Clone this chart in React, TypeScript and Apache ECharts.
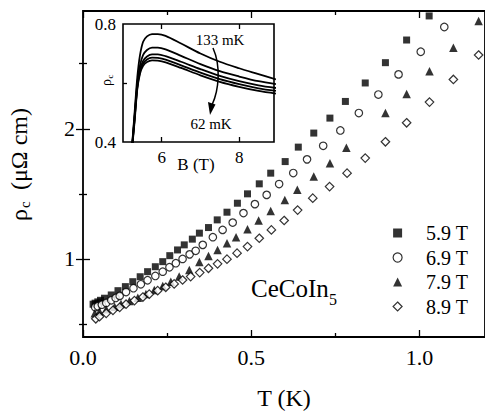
import React, { useEffect, useRef } from "react";
import * as echarts from "echarts";

// Main panel: resistivity rho_c (micro-ohm cm) vs T (K) at four fields
const seriesNames = ["5.9 T", "6.9 T", "7.9 T", "8.9 T"];

const rho59T: number[][] = [
  [0.030, 0.652], [0.036, 0.660], [0.044, 0.670], [0.052, 0.682], [0.064, 0.698],
  [0.084, 0.723], [0.104, 0.756], [0.126, 0.787], [0.148, 0.825], [0.170, 0.863],
  [0.192, 0.902], [0.215, 0.940], [0.237, 0.979], [0.258, 1.025], [0.281, 1.069],
  [0.301, 1.108], [0.325, 1.152], [0.346, 1.198], [0.373, 1.241], [0.399, 1.300],
  [0.428, 1.359], [0.459, 1.428], [0.489, 1.500], [0.524, 1.577], [0.558, 1.659],
  [0.601, 1.748], [0.640, 1.859], [0.686, 1.967], [0.734, 2.082], [0.780, 2.210],
  [0.839, 2.352], [0.899, 2.508], [0.962, 2.682], [1.029, 2.867],
];

const rho69T: number[][] = [
  [0.036, 0.628], [0.044, 0.636], [0.056, 0.648], [0.069, 0.662], [0.084, 0.682],
  [0.097, 0.700], [0.109, 0.716], [0.128, 0.745], [0.150, 0.775], [0.172, 0.805],
  [0.192, 0.836], [0.215, 0.869], [0.237, 0.902], [0.257, 0.936], [0.276, 0.967],
  [0.296, 1.000], [0.317, 1.035], [0.335, 1.062], [0.356, 1.108], [0.386, 1.167],
  [0.415, 1.223], [0.445, 1.279], [0.477, 1.352], [0.511, 1.421], [0.546, 1.492],
  [0.583, 1.575], [0.625, 1.660], [0.666, 1.765], [0.714, 1.869], [0.765, 1.987],
  [0.820, 2.121], [0.878, 2.263], [0.938, 2.418], [1.004, 2.592], [1.074, 2.782],
];

const rho79T: number[][] = [
  [0.035, 0.582], [0.049, 0.595], [0.069, 0.613], [0.094, 0.633], [0.113, 0.654],
  [0.138, 0.677], [0.163, 0.702], [0.187, 0.731], [0.212, 0.762], [0.237, 0.792],
  [0.261, 0.825], [0.286, 0.864], [0.316, 0.915], [0.346, 0.977], [0.373, 1.023],
  [0.400, 1.069], [0.428, 1.121], [0.455, 1.167], [0.489, 1.228], [0.522, 1.295],
  [0.558, 1.369], [0.600, 1.452], [0.637, 1.531], [0.686, 1.633], [0.734, 1.736],
  [0.783, 1.854], [0.899, 2.121], [0.962, 2.268], [1.030, 2.442], [1.101, 2.623],
  [1.176, 2.828],
];

const rho89T: number[][] = [
  [0.038, 0.540], [0.049, 0.556], [0.069, 0.582], [0.089, 0.605], [0.109, 0.628],
  [0.128, 0.652], [0.153, 0.680], [0.178, 0.707], [0.197, 0.729], [0.222, 0.756],
  [0.246, 0.782], [0.271, 0.808], [0.296, 0.838], [0.320, 0.864], [0.347, 0.895],
  [0.373, 0.928], [0.400, 0.962], [0.428, 0.998], [0.458, 1.044], [0.489, 1.095],
  [0.524, 1.159], [0.560, 1.223], [0.598, 1.295], [0.638, 1.375], [0.683, 1.467],
  [0.733, 1.556], [0.785, 1.659], [0.839, 1.775], [0.899, 1.900], [0.962, 2.046],
  [1.030, 2.205], [1.101, 2.379], [1.176, 2.567],
];

// Main axes ticks
const xMajorTicks = [0, 0.5, 1.0];
const xMinorTicks = [0.25, 0.75];
const yMajorTicks = [1, 2];
const yMinorTicks = [0.5, 1.5, 2.5];

// Inset: rho_c vs B (T) at temperatures from 133 mK down to 62 mK
const insetB = [5.2, 5.3, 5.37, 5.44, 5.52, 5.62, 5.75, 5.9, 6.1, 6.5, 7.0, 7.5, 8.0, 8.5, 8.95];
const inset133mK = [0.33, 0.50, 0.62, 0.695, 0.74, 0.758, 0.766, 0.766, 0.760, 0.734, 0.700, 0.672, 0.650, 0.630, 0.612];
const insetCurve2 = [0.33, 0.49, 0.60, 0.66, 0.695, 0.712, 0.720, 0.720, 0.714, 0.692, 0.664, 0.640, 0.622, 0.606, 0.596];
const insetCurve3 = [0.33, 0.48, 0.59, 0.645, 0.675, 0.690, 0.697, 0.697, 0.691, 0.672, 0.647, 0.624, 0.606, 0.592, 0.583];
const insetCurve4 = [0.33, 0.48, 0.585, 0.638, 0.666, 0.680, 0.686, 0.685, 0.679, 0.660, 0.635, 0.613, 0.596, 0.582, 0.573];
const inset62mK = [0.33, 0.47, 0.58, 0.632, 0.658, 0.671, 0.677, 0.676, 0.670, 0.651, 0.626, 0.604, 0.587, 0.573, 0.564];
const insetCurves = [inset133mK, insetCurve2, insetCurve3, insetCurve4, inset62mK];
const insetXTicks = [6, 8];
const insetYLabels = [0.4, 0.8];
const insetYMinor = [0.6];

const FONT = "Liberation Serif";

export default function App() {
  const ref = useRef<HTMLDivElement>(null);

  useEffect(() => {
    document.body.style.margin = "0";
    if (!ref.current) return;
    const chart = echarts.init(ref.current, null, { renderer: "svg" });

    const tickAxisBase = (extra: any) => ({
      type: "value",
      axisLine: { show: false },
      splitLine: { show: false },
      axisLabel: { show: false },
      ...extra,
    });

    const mainX = { min: 0, max: 1.195, gridIndex: 0 };
    const mainY = { min: 0.4, max: 2.905, gridIndex: 0 };
    const inX = { min: 5, max: 8.9, gridIndex: 1 };
    const inY = { min: 0.4, max: 0.8, gridIndex: 1 };
    const tickStyle = { color: "#000", width: 1.3 };

    const xAxis: any[] = [
      tickAxisBase({
        ...mainX, position: "bottom",
        axisTick: { inside: true, length: 7, lineStyle: tickStyle, customValues: xMajorTicks },
        axisLabel: {
          show: true, customValues: xMajorTicks, margin: 9,
          formatter: (v: number) => v.toFixed(1),
          fontFamily: FONT, fontSize: 22, color: "#000",
        },
      }),
      tickAxisBase({ ...mainX, position: "bottom", axisTick: { inside: true, length: 4, lineStyle: tickStyle, customValues: xMinorTicks } }),
      tickAxisBase({ ...mainX, position: "top", axisTick: { inside: true, length: 7, lineStyle: tickStyle, customValues: xMajorTicks } }),
      tickAxisBase({ ...mainX, position: "top", axisTick: { inside: true, length: 4, lineStyle: tickStyle, customValues: xMinorTicks } }),
      tickAxisBase({
        ...inX, position: "bottom",
        axisTick: { inside: true, length: 5, lineStyle: tickStyle, customValues: insetXTicks },
        axisLabel: { show: true, customValues: insetXTicks, margin: 7, fontFamily: FONT, fontSize: 17, color: "#000" },
      }),
      tickAxisBase({ ...inX, position: "top", axisTick: { inside: true, length: 5, lineStyle: tickStyle, customValues: insetXTicks } }),
    ];

    const yAxis: any[] = [
      tickAxisBase({
        ...mainY, position: "left",
        axisTick: { inside: true, length: 7, lineStyle: tickStyle, customValues: yMajorTicks },
        axisLabel: { show: true, customValues: yMajorTicks, margin: 8, fontFamily: FONT, fontSize: 22, color: "#000" },
      }),
      tickAxisBase({ ...mainY, position: "left", axisTick: { inside: true, length: 4, lineStyle: tickStyle, customValues: yMinorTicks } }),
      tickAxisBase({ ...mainY, position: "right", axisTick: { inside: true, length: 7, lineStyle: tickStyle, customValues: yMajorTicks } }),
      tickAxisBase({ ...mainY, position: "right", axisTick: { inside: true, length: 4, lineStyle: tickStyle, customValues: yMinorTicks } }),
      tickAxisBase({
        ...inY, position: "left",
        axisTick: { inside: true, length: 4, lineStyle: tickStyle, customValues: insetYMinor },
        axisLabel: {
          show: true, customValues: insetYLabels, margin: 7,
          formatter: (v: number) => v.toFixed(1),
          fontFamily: FONT, fontSize: 17, color: "#000",
        },
      }),
    ];

    const openStyle = { color: "#fff", borderColor: "#000", borderWidth: 1.2 };
    const filledStyle = { color: "#000", borderColor: "#000", borderWidth: 0 };

    const scatterDefs = [
      { name: seriesNames[0], data: rho59T, symbol: "rect", size: 7, style: filledStyle },
      { name: seriesNames[1], data: rho69T, symbol: "circle", size: 7.5, style: openStyle },
      { name: seriesNames[2], data: rho79T, symbol: "triangle", size: 8.5, style: filledStyle },
      { name: seriesNames[3], data: rho89T, symbol: "diamond", size: 8.5, style: openStyle },
    ];

    const series: any[] = scatterDefs.map((d) => ({
      type: "scatter",
      name: d.name,
      xAxisIndex: 0,
      yAxisIndex: 0,
      data: d.data,
      symbol: d.symbol,
      symbolSize: d.size,
      itemStyle: d.style,
      clip: true,
      silent: true,
    }));

    insetCurves.forEach((c, i) => {
      series.push({
        type: "line",
        name: "inset" + i,
        xAxisIndex: 4,
        yAxisIndex: 4,
        data: insetB.map((b, j) => [b, c[j]]),
        showSymbol: false,
        symbol: "none",
        smooth: 0.3,
        clip: true,
        lineStyle: { color: "#000", width: 1.8 },
        z: 6,
        silent: true,
      });
    });

    const legendData = scatterDefs.map((d) => ({
      name: d.name,
      icon: d.symbol,
      itemStyle: d.style,
    }));

    const txt = (x: number, y: number, text: string, size: number, align = "center", extra: any = {}) => ({
      type: "text",
      x,
      y,
      style: {
        text,
        fill: "#000",
        font: `${size}px "${FONT}"`,
        align,
        verticalAlign: "middle",
        ...extra,
      },
      silent: true,
    });

    chart.setOption({
      animation: false,
      backgroundColor: "#fff",
      grid: [
        { left: 83, top: 11, width: 404, height: 326, show: true, borderColor: "#000", borderWidth: 1.8, backgroundColor: "transparent" },
        { left: 123, top: 24, width: 151, height: 118, show: true, borderColor: "#000", borderWidth: 1.6, backgroundColor: "transparent" },
      ],
      xAxis,
      yAxis,
      series,
      legend: {
        data: legendData,
        orient: "vertical",
        left: 392.5,
        top: 223,
        padding: 0,
        itemWidth: 9,
        itemHeight: 9,
        itemGap: 4.5,
        selectedMode: false,
        textStyle: { fontFamily: FONT, fontSize: 20, color: "#000", lineHeight: 20, padding: [0, 0, 0, 19] },
      },
      graphic: [
        txt(284, 398, "T (K)", 24),
        {
          type: "group",
          x: 19,
          y: 221,
          rotation: Math.PI / 2,
          children: [
            txt(0, 0, "ρ", 24, "left"),
            txt(13, 6, "c", 15, "left"),
            txt(31, 0, "(μΩ cm)", 24, "left"),
          ],
        },
        {
          type: "group",
          x: 106,
          y: 86,
          rotation: Math.PI / 2,
          z: 10,
          children: [txt(0, 0, "ρ", 14, "left"), txt(7.5, 3.5, "c", 9, "left")],
        },
        txt(196, 164, "B (T)", 17),
        txt(251, 288, "CeCoIn", 25, "left"),
        txt(329, 299, "5", 16, "left"),
        { ...txt(220, 40, "133 mK", 15), z: 10 },
        { ...txt(211, 124, "62 mK", 15), z: 10 },
        {
          type: "bezierCurve",
          z: 10,
          shape: { x1: 213, y1: 48, cpx1: 221, cpy1: 66, cpx2: 219, cpy2: 90, x2: 212, y2: 105 },
          style: { stroke: "#000", lineWidth: 1.5, fill: null },
          silent: true,
        },
        {
          type: "polygon",
          z: 10,
          shape: { points: [[210, 115], [208, 102], [215.5, 104.5]] },
          style: { fill: "#000" },
          silent: true,
        },
      ],
    });

    return () => chart.dispose();
  }, []);

  return <div ref={ref} style={{ width: 485, height: 411 }} />;
}
